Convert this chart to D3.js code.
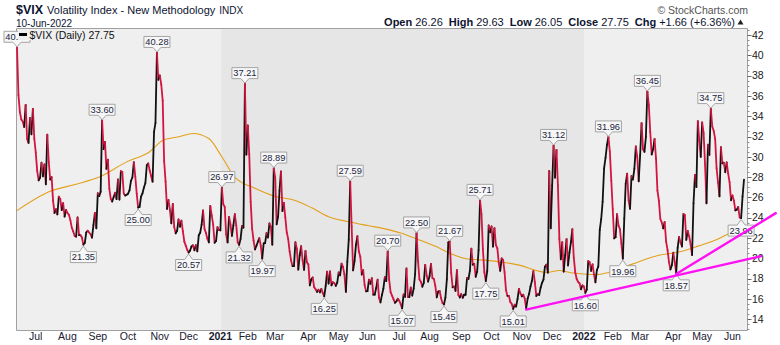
<!DOCTYPE html>
<html><head><meta charset="utf-8">
<script src="https://cdn.jsdelivr.net/npm/d3@7/dist/d3.min.js"></script>
<style>
html,body{margin:0;padding:0;background:#fff;}
svg{display:block;font-family:"Liberation Sans",Arial,sans-serif;}
</style></head><body>
<svg id="chart" width="780" height="345"></svg>
<script>
// ---- DATA ----
const sessionMonths = ["2020-06","2020-07","2020-08","2020-09","2020-10","2020-11","2020-12",
 "2021-01","2021-02","2021-03","2021-04","2021-05","2021-06","2021-07","2021-08","2021-09","2021-10","2021-11","2021-12",
 "2022-01","2022-02","2022-03","2022-04","2022-05","2022-06"];
const sessionDays = [
 [11,12,15,16,17,18,19,22,23,24,25,26,29,30],
 [1,2,6,7,8,9,10,13,14,15,16,17,20,21,22,23,24,27,28,29,30,31],
 [3,4,5,6,7,10,11,12,13,14,17,18,19,20,21,24,25,26,27,28,31],
 [1,2,3,4,8,9,10,11,14,15,16,17,18,21,22,23,24,25,28,29,30],
 [1,2,5,6,7,8,9,12,13,14,15,16,19,20,21,22,23,26,27,28,29,30],
 [2,3,4,5,6,9,10,11,12,13,16,17,18,19,20,23,24,25,27,30],
 [1,2,3,4,7,8,9,10,11,14,15,16,17,18,21,22,23,24,28,29,30,31],
 [4,5,6,7,8,11,12,13,14,15,19,20,21,22,25,26,27,28,29],
 [1,2,3,4,5,8,9,10,11,12,16,17,18,19,22,23,24,25,26],
 [1,2,3,4,5,8,9,10,11,12,15,16,17,18,19,22,23,24,25,26,29,30,31],
 [1,5,6,7,8,9,12,13,14,15,16,19,20,21,22,23,26,27,28,29,30],
 [3,4,5,6,7,10,11,12,13,14,17,18,19,20,21,24,25,26,27,28],
 [1,2,3,4,7,8,9,10,11,14,15,16,17,18,21,22,23,24,25,28,29,30],
 [1,2,6,7,8,9,12,13,14,15,16,19,20,21,22,23,26,27,28,29,30],
 [2,3,4,5,6,9,10,11,12,13,16,17,18,19,20,23,24,25,26,27,30,31],
 [1,2,3,7,8,9,10,13,14,15,16,17,20,21,22,23,24,27,28,29,30],
 [1,4,5,6,7,8,11,12,13,14,15,18,19,20,21,22,25,26,27,28,29],
 [1,2,3,4,5,8,9,10,11,12,15,16,17,18,19,22,23,24,26,29,30],
 [1,2,3,6,7,8,9,10,13,14,15,16,17,20,21,22,23,27,28,29,30,31],
 [3,4,5,6,7,10,11,12,13,14,18,19,20,21,24,25,26,27,28,31],
 [1,2,3,4,7,8,9,10,11,14,15,16,17,18,22,23,24,25,28],
 [1,2,3,4,7,8,9,10,11,14,15,16,17,18,21,22,23,24,25,28,29,30,31],
 [1,4,5,6,7,8,11,12,13,14,18,19,20,21,22,25,26,27,28,29],
 [2,3,4,5,6,9,10,11,12,13,16,17,18,19,20,23,24,25,26,27,31],
 [1,2,3,6,7,8,9,10]
];
const vixCloses = [
 [40.79,36.09,34.40,33.67,33.47,32.94,35.12,31.77,31.37,33.84,32.22,34.73,31.78,30.43],
 [28.62,27.68,27.94,29.43,28.08,29.26,27.29,32.19,29.52,27.76,28.00,25.68,24.46,24.84,24.32,26.08,25.84,24.74,25.44,24.10,24.76,24.46],
 [24.28,23.76,22.99,22.65,22.21,22.13,24.03,22.28,22.28,22.05,21.35,21.51,22.54,22.72,22.54,22.37,22.03,23.27,24.47,22.96,26.41],
 [26.12,26.57,33.60,30.75,31.46,28.81,29.71,26.87,25.85,25.59,26.04,26.46,25.83,27.78,25.79,28.58,28.51,26.38,26.19,26.27,26.37],
 [26.70,27.63,27.96,29.48,28.06,26.36,25.00,25.07,26.07,26.40,26.97,27.41,29.18,29.35,28.65,28.11,27.55,32.46,33.35,40.28,37.59,38.02],
 [37.13,35.55,29.57,27.58,24.86,25.75,24.80,23.45,25.35,23.10,22.45,22.71,23.84,23.11,23.70,22.66,21.64,21.25,20.84,20.57],
 [20.77,21.17,21.28,20.79,21.30,20.68,22.27,22.52,23.31,24.72,22.89,22.50,21.93,21.57,25.16,24.23,23.31,21.53,21.70,23.08,22.77,22.75],
 [26.97,25.34,25.07,22.37,21.56,24.08,23.33,22.21,23.25,24.34,23.24,21.58,21.32,21.91,23.19,23.02,37.21,30.21,33.09],
 [30.24,25.56,22.91,21.77,20.87,21.24,21.63,21.99,21.25,19.97,21.46,21.50,22.49,22.05,23.45,23.11,21.34,28.89,27.95],
 [23.35,24.10,26.67,28.57,24.66,25.47,24.03,22.56,21.91,20.69,19.79,19.23,19.23,21.58,20.95,18.88,20.30,21.20,19.81,18.86,20.74,19.61,19.40],
 [17.33,17.91,18.12,17.16,16.95,16.69,16.91,16.65,16.99,16.57,16.25,17.29,18.68,17.50,18.71,17.33,17.64,17.56,17.28,17.61,18.61],
 [18.31,19.48,19.15,18.39,16.69,19.66,21.84,27.59,23.13,18.81,19.72,21.34,22.18,20.67,20.15,18.40,18.84,17.36,16.74,16.76],
 [17.90,17.48,18.04,16.42,16.42,17.07,17.89,16.10,15.65,16.39,17.02,18.15,17.75,20.70,17.89,16.66,16.32,15.97,15.62,15.76,16.02,15.83],
 [15.48,15.07,16.44,16.20,19.00,16.18,16.17,17.12,16.33,17.01,18.45,22.50,19.73,17.91,17.69,17.20,17.58,19.36,18.31,17.70,18.24],
 [19.46,18.04,17.97,17.28,16.15,16.72,16.79,16.06,15.59,15.45,16.12,17.91,21.57,21.67,18.56,17.15,17.22,16.79,18.84,16.39,16.14,16.48],
 [16.11,16.41,16.41,18.06,17.96,18.80,20.95,19.37,19.46,18.18,18.69,20.81,25.71,24.36,20.87,18.63,17.75,18.76,23.25,22.56,23.14],
 [21.15,22.96,21.30,21.00,19.54,18.77,20.00,19.85,18.64,16.86,16.30,16.30,15.70,15.49,15.01,15.43,15.24,15.98,16.98,16.53,16.26],
 [16.41,16.03,15.10,16.03,16.48,17.22,17.78,18.73,17.66,16.29,16.49,16.37,17.11,17.59,17.91,19.17,19.38,18.58,28.62,22.96,27.19],
 [31.12,27.95,30.67,27.18,21.89,19.90,21.58,18.69,20.31,21.89,19.29,20.57,21.57,22.87,20.06,18.63,17.96,17.68,17.54,16.95,17.33,17.22],
 [16.60,16.91,19.73,19.61,18.76,19.40,18.41,17.62,18.83,19.19,22.79,23.85,25.59,28.85,29.90,31.16,31.96,30.49,27.66,24.83],
 [21.96,22.09,24.35,23.22,22.86,21.44,19.96,23.91,27.36,28.33,25.70,24.88,28.11,27.75,28.81,31.02,29.98,27.59,30.15],
 [33.32,30.74,30.48,31.98,36.45,35.13,32.45,30.23,30.75,31.77,29.83,26.67,25.67,23.87,23.53,22.94,23.57,21.67,20.81,19.63,18.90,19.33,20.56],
 [19.63,18.57,21.03,22.10,21.55,21.16,24.37,24.26,21.82,22.70,22.17,21.37,20.32,25.42,28.21,27.02,33.52,31.60,29.99,33.40],
 [32.34,29.25,25.42,31.20,30.19,34.75,32.99,32.56,31.77,28.87,27.47,26.10,30.96,29.35,29.43,28.48,29.45,28.37,27.50,25.72,26.19],
 [25.69,24.72,24.79,25.07,24.02,23.96,26.09,27.75]
];
// 200-day moving average
const maPoints = [
 ["2020-06-11",24.7],["2020-07-15",26.6],["2020-08-10",27.3],["2020-09-01",28.0],["2020-09-29",29.5],
 ["2020-10-21",30.5],["2020-11-03",31.6],["2020-11-19",32.0],["2020-12-03",32.3],["2020-12-18",31.8],
 ["2021-01-04",30.0],["2021-01-15",28.0],["2021-02-05",26.9],["2021-02-26",26.1],["2021-03-18",25.7],
 ["2021-04-05",25.0],["2021-04-21",24.1],["2021-05-11",23.6],["2021-06-01",23.2],["2021-06-16",22.9],
 ["2021-07-01",22.5],["2021-07-21",21.8],["2021-08-10",21.0],["2021-08-19",20.5],["2021-09-09",19.9],
 ["2021-09-27",19.8],["2021-10-12",19.6],["2021-10-28",19.3],["2021-11-12",18.8],["2021-11-23",18.6],
 ["2021-12-07",18.8],["2021-12-16",18.6],["2021-12-27",18.5],["2022-01-12",18.4],["2022-01-26",18.6],
 ["2022-02-17",19.4],["2022-03-17",20.3],["2022-04-05",20.6],["2022-04-26",21.2],["2022-05-16",21.9],
 ["2022-05-31",22.6],["2022-06-10",23.0]
];
// Peak / trough annotations: date, value, side
const annotations = [
 ["2020-06-11",40.79,"up"],["2020-09-03",33.60,"up"],["2020-10-28",40.28,"up"],["2021-01-04",26.97,"up"],
 ["2021-01-27",37.21,"up"],["2021-02-25",28.89,"up"],["2021-05-12",27.59,"up"],["2021-06-18",20.70,"up"],
 ["2021-07-19",22.50,"up"],["2021-08-19",21.67,"up"],["2021-09-20",25.71,"up"],["2021-12-01",31.12,"up"],
 ["2022-01-26",31.96,"up"],["2022-03-07",36.45,"up"],["2022-05-09",34.75,"up"],
 ["2020-08-17",21.35,"down"],["2020-10-09",25.00,"down"],["2020-11-30",20.57,"down"],["2021-01-21",21.32,"down"],
 ["2021-02-12",19.97,"down"],["2021-04-16",16.25,"down"],["2021-07-02",15.07,"down"],["2021-08-13",15.45,"down"],
 ["2021-09-24",17.75,"down"],["2021-10-21",15.01,"down"],["2022-01-03",16.60,"down"],["2022-02-09",19.96,"down"],
 ["2022-04-04",18.57,"down"],["2022-06-08",23.96,"down"]
];
// Trend lines: start date/value, end as sessions past the last bar, end value
const trendLines = [
 {start:"2021-11-03", startValue:14.95, sessionsPastEnd:12, endValue:20.22},
 {start:"2022-04-04", startValue:18.45, sessionsPastEnd:22, endValue:24.45}
];
const yTicks = [14,16,18,20,22,24,26,28,30,32,34,36,38,40,42];
const monthNames = ["Jan","Feb","Mar","Apr","May","Jun","Jul","Aug","Sep","Oct","Nov","Dec"];
const headerStats = [["Open","26.26"],["High","29.63"],["Low","26.05"],["Close","27.75"],["Chg","+1.66 (+6.36%)"]];

// ---- BUILD ----
const dates = [], closes = [];
sessionMonths.forEach((m,k)=>{
  sessionDays[k].forEach((d,j)=>{ dates.push(m+"-"+String(d).padStart(2,"0")); closes.push(vixCloses[k][j]); });
});
const idxOf = new Map(dates.map((d,i)=>[d,i]));
const last = dates.length-1;

const svg = d3.select("#chart");
const L=16, R=747, T=28, B=330;
const x = d3.scaleLinear().domain([0,last]).range([17,744]);
const y = d3.scaleLinear().domain([14,42]).range([319.2,35]);

// background bands by year
const yearStarts = [0];
dates.forEach((d,i)=>{ if(i>0 && d.slice(0,4)!==dates[i-1].slice(0,4)) yearStarts.push(i); });
const bandFill = ["#efefef","#e6e6e6","#efefef"];
yearStarts.forEach((s,k)=>{
  const x0 = k===0 ? L : x(s-0.5);
  const x1 = k===yearStarts.length-1 ? R : x(yearStarts[k+1]-0.5);
  svg.append("rect").attr("x",x0).attr("y",T).attr("width",x1-x0).attr("height",B-T).attr("fill",bandFill[k%3]);
});

// border
svg.append("path").attr("d",`M${L+0.5},${B+0.5}V${T+0.5}H${R+0.5}V${B+0.5}H${L+0.5}`)
  .attr("fill","none").attr("stroke","#a0a0a0").attr("stroke-width",1);

// right axis
const axisG = svg.append("g");
const minor = d3.range(13,42.51,0.5).filter(v=>y(v)>=T && y(v)<=B);
axisG.selectAll("line.mn").data(minor).join("line")
  .attr("x1",R+0.5).attr("x2",R+2.5).attr("y1",d=>Math.round(y(d))+0.5).attr("y2",d=>Math.round(y(d))+0.5)
  .attr("stroke","#8a8a8a").attr("stroke-width",1);
axisG.selectAll("line.mj").data(yTicks).join("line")
  .attr("x1",R+0.5).attr("x2",R+4.5).attr("y1",d=>Math.round(y(d))+0.5).attr("y2",d=>Math.round(y(d))+0.5)
  .attr("stroke","#666").attr("stroke-width",1);
axisG.selectAll("text").data(yTicks).join("text")
  .attr("x",R+5).attr("y",d=>y(d)).attr("dy","0.36em")
  .attr("font-size",10.5).attr("fill","#1a1a1a").text(d=>d);

// bottom month labels
const monthStarts = [];
dates.forEach((d,i)=>{ if(i>0 && d.slice(0,7)!==dates[i-1].slice(0,7)) monthStarts.push(i); });
svg.append("g").selectAll("text").data(monthStarts).join("text")
  .attr("x",i=>x(i)-1.5).attr("y",339.5).attr("text-anchor","middle")
  .attr("font-size",10.5).attr("fill","#1a2030")
  .attr("font-weight",i=>dates[i].slice(5,7)==="01"?"bold":"normal")
  .text(i=>{const mo=+dates[i].slice(5,7); return mo===1?dates[i].slice(0,4):monthNames[mo-1];});

// moving average
const maLine = d3.line().x(d=>x(idxOf.get(d[0]))).y(d=>y(d[1])).curve(d3.curveMonotoneX);
svg.append("path").datum(maPoints).attr("d",maLine).attr("fill","none")
  .attr("stroke","#e3a01b").attr("stroke-width",1.1);

// price line: black up, red down
const segs = d3.range(1,dates.length).map(i=>({i, up: closes[i]>=closes[i-1]}));
svg.append("g").selectAll("line").data(segs).join("line")
  .attr("x1",d=>x(d.i-1)).attr("y1",d=>y(closes[d.i-1]))
  .attr("x2",d=>x(d.i)).attr("y2",d=>y(closes[d.i]))
  .attr("stroke",d=>d.up?"#111":"#d41440").attr("stroke-width",1.8).attr("stroke-linecap","round");

// annotations
const annG = svg.append("g");
annotations.forEach(([dt,v,side])=>{
  const px = x(idxOf.get(dt)), py = y(v);
  const w=26, h=11, hw=w/2;
  let top, bot, d;
  if(side==="up"){
    bot = py-5; top = bot-h;
    d = `M${px-hw},${top}H${px+hw}V${bot}H${px+4}L${px},${py-0.5}L${px-4},${bot}H${px-hw}Z`;
  } else {
    top = py+7; bot = top+h;
    d = `M${px-hw},${bot}H${px+hw}V${top}H${px+4}L${px},${py+1.5}L${px-4},${top}H${px-hw}Z`;
  }
  annG.append("path").attr("d",d).attr("fill","#f7f7f7").attr("stroke","#a4a4a4").attr("stroke-width",1);
  annG.append("text").attr("x",px).attr("y",top+h/2).attr("dy","0.36em").attr("text-anchor","middle")
    .attr("font-size",9.3).attr("fill","#1a2440").text(v.toFixed(2));
});

// trend lines
trendLines.forEach(t=>{
  svg.append("line")
    .attr("x1",x(idxOf.get(t.start))).attr("y1",y(t.startValue))
    .attr("x2",x(last+t.sessionsPastEnd)).attr("y2",y(t.endValue))
    .attr("stroke","#ff10f4").attr("stroke-width",2.4).attr("stroke-linecap","round");
});

// legend
svg.append("rect").attr("x",18).attr("y",29).attr("width",95).attr("height",11).attr("fill","#efefef");
svg.append("line").attr("x1",19).attr("x2",27).attr("y1",34.5).attr("y2",34.5).attr("stroke","#000").attr("stroke-width",3);
svg.append("text").attr("x",29.5).attr("y",38.5).attr("font-size",10.5).attr("fill","#111")
  .text(`$VIX (Daily) ${closes[last].toFixed(2)}`);

// header
const h1 = svg.append("text").attr("x",16).attr("y",13.5).attr("fill","#0d1330");
h1.append("tspan").attr("font-weight","bold").attr("font-size",12.5).text("$VIX");
h1.append("tspan").attr("font-size",11).attr("dx",4).text("Volatility Index - New Methodology");
h1.append("tspan").attr("font-size",10).attr("dx",4).text("INDX");
svg.append("text").attr("x",16).attr("y",26.5).attr("font-size",10).attr("fill","#0d1330").text("10-Jun-2022");
svg.append("text").attr("x",748).attr("y",14).attr("text-anchor","end").attr("font-size",10.5).attr("fill","#555")
  .text("© StockCharts.com");
const h2 = svg.append("text").attr("x",735).attr("y",25.5).attr("text-anchor","end").attr("font-size",11).attr("fill","#0d1330");
headerStats.forEach(([k,v],n)=>{
  h2.append("tspan").attr("font-weight","bold").attr("dx",n?6:0).text(k);
  h2.append("tspan").attr("dx",3).text(v);
});
svg.append("path").attr("d","M737.5,24.5L743.5,24.5L740.5,19.5Z").attr("fill","#222");
</script>
</body></html>
